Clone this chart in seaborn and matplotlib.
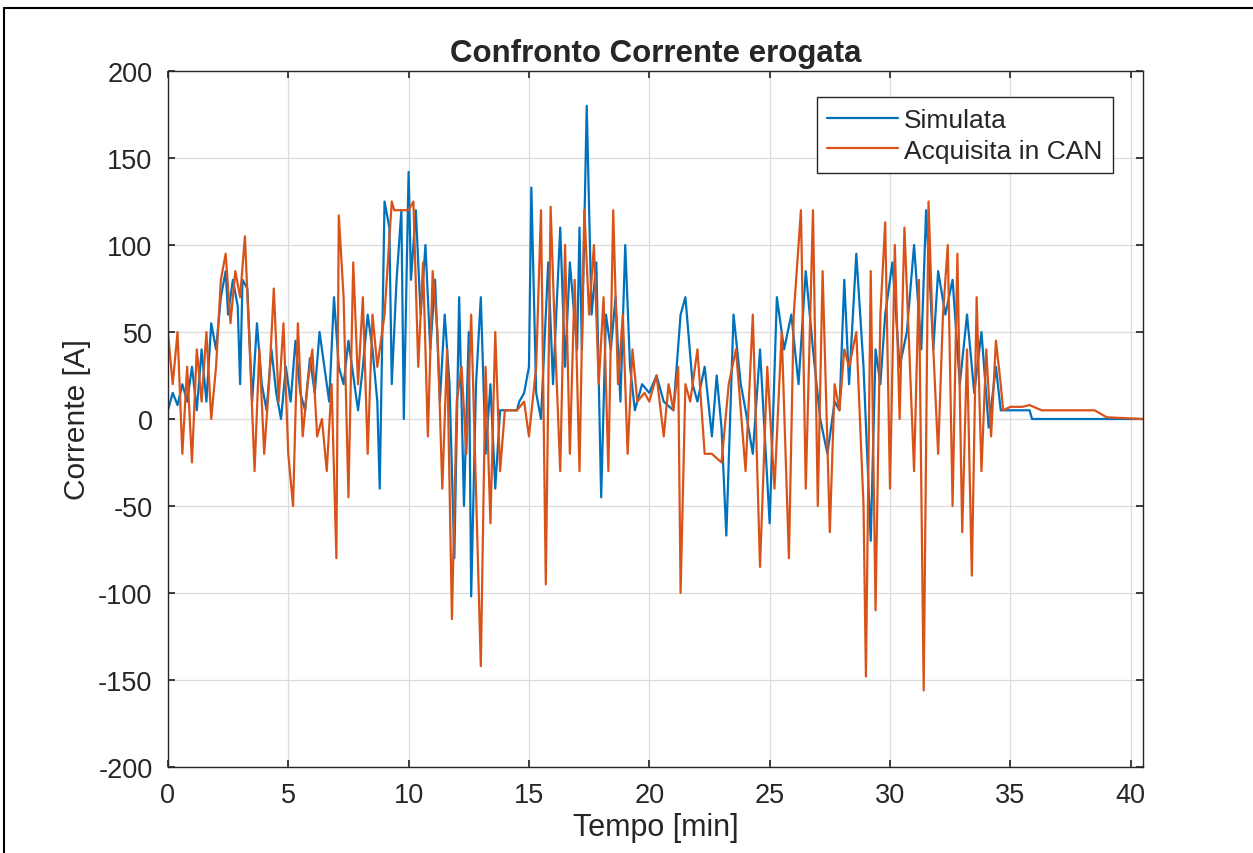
import pandas as pd
import seaborn as sns
import matplotlib.pyplot as plt
from matplotlib.patches import Rectangle

# Simulata (tempo in min, corrente in A)
t_sim = [0, 0.2, 0.4, 0.6, 0.8, 1.0, 1.2, 1.4, 1.6, 1.8, 2.0, 2.2, 2.4, 2.5, 2.7, 2.9, 3.0, 3.1, 3.3, 3.5,
         3.7, 3.9, 4.1, 4.3, 4.5, 4.7, 4.9, 5.1, 5.3, 5.5, 5.7, 5.9, 6.1, 6.3, 6.5, 6.7, 6.9, 7.1, 7.3, 7.5,
         7.7, 7.9, 8.1, 8.3, 8.5, 8.7, 8.8, 9.0, 9.2, 9.3, 9.5, 9.7, 9.8, 10.0, 10.1, 10.3, 10.5, 10.7, 10.9,
         11.1, 11.3, 11.5, 11.7, 11.9, 12.1, 12.3, 12.5, 12.6, 12.8, 13.0, 13.2, 13.4, 13.6, 13.8, 14.0, 14.5,
         14.6, 14.8, 15.0, 15.1, 15.3, 15.5, 15.8, 16.0, 16.3, 16.5, 16.7, 17.0, 17.1, 17.2, 17.4, 17.6, 17.8,
         18.0, 18.2, 18.4, 18.6, 18.8, 19.0, 19.2, 19.4, 19.7, 20.0, 20.3, 20.6, 21.0, 21.3, 21.5, 21.8, 22.0,
         22.3, 22.6, 22.8, 23.0, 23.2, 23.5, 23.8, 24.0, 24.3, 24.6, 25.0, 25.3, 25.6, 25.9, 26.2, 26.5, 26.8,
         27.1, 27.4, 27.7, 27.9, 28.1, 28.3, 28.6, 28.9, 29.2, 29.4, 29.6, 29.8, 30.1, 30.4, 30.7, 31.0, 31.3,
         31.5, 31.8, 32.0, 32.3, 32.6, 32.9, 33.2, 33.5, 33.8, 34.1, 34.4, 34.6, 34.8, 35.0, 35.8, 35.9, 40.5]
i_sim = [5, 15, 8, 20, 10, 30, 5, 40, 10, 55, 40, 70, 85, 60, 80, 65, 20, 80, 75, 10,
         55, 20, 5, 40, 15, 0, 30, 10, 45, 15, 5, 35, 15, 50, 30, 10, 70, 30, 20, 45,
         25, 5, 30, 60, 40, 10, -40, 125, 110, 20, 80, 120, 0, 142, 80, 120, 60, 100, 40,
         80, 10, 60, 20, -80, 70, -50, 50, -102, 20, 70, -20, 20, -40, 5, 5, 5,
         10, 15, 30, 133, 15, 0, 90, 20, 110, 30, 90, 40, 110, 40, 180, 60, 90,
         -45, 60, 40, 70, 10, 100, 30, 5, 20, 15, 25, 10, 5, 60, 70, 20, 10,
         30, -10, 25, -5, -67, 60, 20, 5, -20, 40, -60, 70, 40, 60, 20, 85, 40,
         0, -20, 10, 5, 80, 20, 95, 30, -70, 40, 20, 60, 90, 30, 50, 100, 40,
         120, 40, 85, 60, 80, 20, 60, 15, 50, -5, 30, 5, 5, 5, 5, 0, 0]

# Acquisita in CAN
t_can = [0, 0.2, 0.4, 0.6, 0.8, 1.0, 1.2, 1.4, 1.6, 1.8, 2.0, 2.2, 2.4, 2.6, 2.8, 3.0, 3.2, 3.4, 3.6, 3.8,
         4.0, 4.2, 4.4, 4.6, 4.8, 5.0, 5.2, 5.4, 5.6, 5.8, 6.0, 6.2, 6.4, 6.6, 6.8, 7.0, 7.1, 7.3, 7.5, 7.7,
         7.9, 8.1, 8.3, 8.5, 8.7, 9.0, 9.3, 9.4, 9.6, 9.8, 10.0, 10.2, 10.4, 10.6, 10.8, 11.0, 11.2, 11.4,
         11.6, 11.8, 12.0, 12.2, 12.4, 12.6, 12.8, 13.0, 13.2, 13.4, 13.6, 13.8, 14.0, 14.5, 14.8, 15.0, 15.3,
         15.5, 15.7, 15.9, 16.1, 16.3, 16.5, 16.7, 16.9, 17.1, 17.3, 17.5, 17.7, 17.9, 18.1, 18.3, 18.5, 18.7,
         18.9, 19.1, 19.3, 19.5, 19.8, 20.0, 20.3, 20.6, 20.8, 21.0, 21.2, 21.3, 21.5, 21.7, 22.0, 22.3, 22.6,
         23.0, 23.3, 23.6, 24.0, 24.3, 24.6, 24.9, 25.2, 25.5, 25.8, 26.0, 26.3, 26.5, 26.8, 27.0, 27.2, 27.5,
         27.7, 27.9, 28.1, 28.3, 28.6, 28.9, 29.0, 29.2, 29.4, 29.6, 29.8, 30.0, 30.2, 30.4, 30.6, 30.8, 31.0,
         31.2, 31.4, 31.6, 31.8, 32.0, 32.2, 32.4, 32.6, 32.8, 33.0, 33.2, 33.4, 33.6, 33.8, 34.0, 34.2, 34.4,
         34.6, 34.7, 35.0, 35.5, 35.8, 36.3, 37.0, 38.5, 39.0, 40.5]
i_can = [50, 20, 50, -20, 30, -25, 40, 10, 50, 0, 30, 80, 95, 55, 85, 70, 105, 40, -30, 40,
         -20, 20, 75, 10, 55, -20, -50, 55, -10, 20, 40, -10, 0, -30, 20, -80, 117, 70, -45, 90,
         20, 70, -20, 60, 30, 60, 125, 120, 120, 120, 120, 125, 30, 90, -10, 85, 50, -40,
         40, -115, 10, 30, -20, 60, -40, -142, 30, -60, 50, -30, 5, 5, 10, -10, 30,
         120, -95, 122, 40, -30, 100, -20, 80, -30, 120, 60, 100, 20, 70, -30, 120, 20,
         60, -20, 40, 10, 15, 10, 25, -10, 20, 5, 30, -100, 20, 10, 40, -20, -20,
         -25, 20, 40, -30, 60, -85, 30, -40, 50, -80, 60, 120, -40, 120, -50, 85, -65,
         20, 5, 40, 30, 50, -50, -148, 85, -110, 60, 113, -40, 100, 0, 110, 40, -30,
         80, -156, 125, 40, -20, 60, 100, -50, 95, -65, 40, -90, 70, -30, 40, -10, 45,
         20, 5, 7, 7, 8, 5, 5, 5, 1, 0]

x_ticks = list(range(0, 41, 5))
y_ticks = list(range(-200, 201, 50))

df = pd.concat([
    pd.DataFrame({'t': t_sim, 'i': i_sim, 'serie': 'Simulata'}),
    pd.DataFrame({'t': t_can, 'i': i_can, 'serie': 'Acquisita in CAN'}),
])

sns.set_theme(style='whitegrid')
plt.rcParams['font.family'] = ['Liberation Sans', 'DejaVu Sans']
plt.rcParams['axes.unicode_minus'] = False

fig = plt.figure(figsize=(12.53, 8.54), dpi=100)
ax = fig.add_axes([0.134, 0.1007, 0.778, 0.815])

colors = {'Simulata': '#0072BD', 'Acquisita in CAN': '#D95319'}
sns.lineplot(data=df, x='t', y='i', hue='serie', palette=colors, sort=False,
             estimator=None, linewidth=1.6, ax=ax)

ax.set_xlim(0, 40.5)
ax.set_ylim(-200, 200)
ax.set_xticks(x_ticks)
ax.set_yticks(y_ticks)
ax.grid(True, color='#dcdcdc', linewidth=0.9)
ax.tick_params(direction='in', length=5, labelsize=19.5, colors='#262626', pad=11,
               top=True, right=True, bottom=True, left=True)
for s in ax.spines.values():
    s.set_color('#262626')
    s.set_linewidth(1.0)

ax.set_title('Confronto Corrente erogata', fontsize=22.5, fontweight='bold', pad=7)
ax.set_xlabel('Tempo [min]', fontsize=22, color='#262626', labelpad=3)
ax.set_ylabel('Corrente [A]', fontsize=21.5, color='#262626', labelpad=5)

leg = ax.legend(loc='upper right', bbox_to_anchor=(0.969, 0.962), borderaxespad=0,
                fontsize=19, frameon=True, fancybox=False, framealpha=1,
                handlelength=2.7, handletextpad=0.2, borderpad=0.4, labelspacing=0.25)
leg.get_frame().set_edgecolor('#262626')
leg.get_frame().set_linewidth(1.0)
for h in leg.get_lines():
    h.set_linewidth(1.6)

fig.patches.append(Rectangle((0.003, -0.01), 1.2, 1.0, transform=fig.transFigure,
                             fill=False, edgecolor='black', linewidth=1.5))

plt.savefig('out.png', dpi=100)
